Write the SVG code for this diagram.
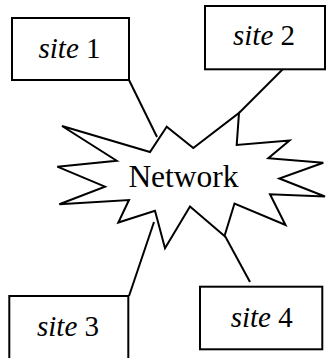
<svg xmlns="http://www.w3.org/2000/svg" width="326" height="358" viewBox="0 0 326 358">
  <style>
    .box { fill: #fff; stroke: #000; stroke-width: 2; }
    .wire { fill: none; stroke: #000; stroke-width: 2; }
    .burst { fill: #fff; stroke: #000; stroke-width: 2; stroke-linejoin: miter; }
    .lbl { font-family: "Liberation Serif", "Times New Roman", serif; font-size: 29px; fill: #000; text-anchor: middle; }
    .it { font-family: "Liberation Serif", "Times New Roman", serif; font-style: italic; }
    .net { font-family: "Liberation Serif", "Times New Roman", serif; font-size: 31.5px; fill: #000; text-anchor: middle; }
  </style>
  <rect width="326" height="358" fill="#fff"/>

  <!-- links from each site to the cloud -->
  <g id="connectors">
    <line class="wire" x1="129" y1="80" x2="157" y2="137"/>
    <line class="wire" x1="283" y1="69" x2="239" y2="113"/>
    <line class="wire" x1="129" y1="296" x2="154" y2="222"/>
    <line class="wire" x1="225" y1="236" x2="250" y2="282"/>
  </g>

  <!-- the network cloud -->
  <g id="network">
    <polygon class="burst" points="166.7,126.7 150,152 62,126 116.7,160.7 57.3,166.7 105,186.7 59.3,204.3 129,200 118.3,222.5 155,210.7 165,248.3 190,206.5 224.5,236 234.5,203.5 285.5,225 270,194.3 325,196.5 279.3,178.5 323.3,162.7 268.3,158.3 289.5,140.5 236.7,145 239,113 193.3,148"/>
    <text class="net" x="183.5" y="186.5">Network</text>
  </g>

  <g id="site1">
    <rect class="box" x="12" y="18" width="117" height="62"/>
    <text class="lbl" x="69.5" y="58.3"><tspan class="it">site</tspan> 1</text>
  </g>

  <g id="site2">
    <rect class="box" x="205" y="6" width="120" height="63.3"/>
    <text class="lbl" x="264" y="45"><tspan class="it">site</tspan> 2</text>
  </g>

  <g id="site3">
    <rect class="box" x="9.3" y="296" width="119" height="66"/>
    <text class="lbl" x="68" y="335.7"><tspan class="it">site</tspan> 3</text>
  </g>

  <g id="site4">
    <rect class="box" x="200" y="286.7" width="122.3" height="62.6"/>
    <text class="lbl" x="261.7" y="326.7"><tspan class="it">site</tspan> 4</text>
  </g>
</svg>
